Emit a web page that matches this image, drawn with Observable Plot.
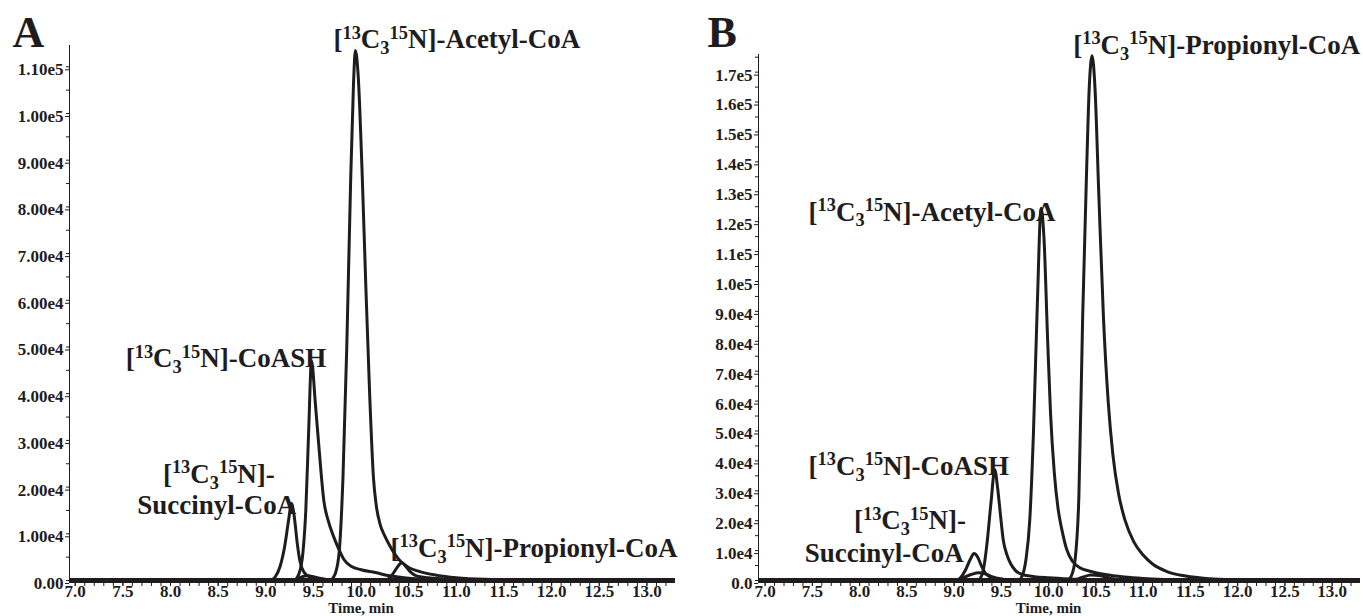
<!DOCTYPE html>
<html><head><meta charset="utf-8">
<script src="https://cdn.jsdelivr.net/npm/d3@7"></script>
<script src="https://cdn.jsdelivr.net/npm/@observablehq/plot@0.6"></script>
<style>
body{margin:0;background:#fff;}
#wrap{display:flex;width:1363px;height:616px;overflow:hidden;}
</style></head><body><div id="wrap"></div>
<script>
// ---------- data (time in min, intensity in cps) ----------
const xTicks = [7.0,7.5,8.0,8.5,9.0,9.5,10.0,10.5,11.0,11.5,12.0,12.5,13.0];
const xMinor = d3.range(70, 133, 1).map(d => d / 10);

const yTicksA = [0,10000,20000,30000,40000,50000,60000,70000,80000,90000,100000,110000];
const yTicksB = [0,10000,20000,30000,40000,50000,60000,70000,80000,90000,100000,110000,120000,130000,140000,150000,160000,170000];

// Panel A
const A_succinyl = [[9.05,0],[9.10,800],[9.15,3000],[9.20,7500],[9.24,13000],[9.27,16500],[9.30,13500],[9.33,8000],[9.36,4000],[9.40,1800],[9.46,800],[9.60,300],[9.80,0]];
const A_coash = [[9.30,0],[9.35,1500],[9.39,6000],[9.42,15000],[9.45,32000],[9.48,47000],[9.52,38000],[9.56,28000],[9.61,17000],[9.66,12500],[9.71,9500],[9.76,7000],[9.82,4500],[9.90,3000],[10.0,2300],[10.15,1700],[10.3,1000],[10.45,600],[10.7,200],[11.0,0]];
const A_acetyl = [[9.68,0],[9.73,1500],[9.77,6000],[9.81,22000],[9.85,50000],[9.89,85000],[9.92,106000],[9.94,113500],[9.97,108000],[10.01,88000],[10.05,63000],[10.09,40000],[10.13,22000],[10.16,16000],[10.20,12000],[10.25,9500],[10.30,7500],[10.36,5500],[10.42,4000],[10.50,2800],[10.6,2000],[10.8,1100],[11.0,600],[11.4,200],[11.8,0]];
const A_propionyl = [[10.26,0],[10.31,800],[10.36,2200],[10.40,3400],[10.43,3800],[10.47,3000],[10.52,1800],[10.58,1000],[10.7,600],[10.9,300],[11.2,0]];
const A_minor = [[9.30,0],[9.37,700],[9.44,1000],[9.52,700],[9.62,200],[9.72,0],[10.9,0],[11.0,350],[11.12,0]];

// Panel B
const B_succinyl = [[9.02,0],[9.07,1000],[9.12,3500],[9.17,7000],[9.21,9000],[9.25,7800],[9.29,4800],[9.33,2500],[9.38,1200],[9.45,600],[9.60,200],[9.80,0]];
const B_minor = [[9.03,0],[9.10,1000],[9.18,2000],[9.26,2600],[9.33,2200],[9.40,1300],[9.50,500],[9.62,0],[10.25,0],[10.35,1000],[10.45,1800],[10.55,1600],[10.65,800],[10.8,200],[10.95,0]];
const B_coash = [[9.25,0],[9.29,1500],[9.32,5500],[9.35,13000],[9.39,26000],[9.43,37000],[9.46,31000],[9.49,22000],[9.52,13500],[9.56,8500],[9.60,5500],[9.65,3300],[9.72,2000],[9.85,1300],[10.0,900],[10.3,400],[10.6,0]];
const B_acetyl = [[9.68,0],[9.72,1500],[9.76,7000],[9.80,20000],[9.84,50000],[9.88,92000],[9.92,124500],[9.95,115000],[9.99,80000],[10.02,56000],[10.06,36000],[10.10,24000],[10.14,17000],[10.19,10500],[10.25,6500],[10.33,4300],[10.45,3000],[10.6,2000],[10.8,1200],[11.0,700],[11.3,300],[11.6,0]];
const B_propionyl = [[10.20,0],[10.24,1500],[10.28,7000],[10.32,28000],[10.36,88000],[10.40,135000],[10.43,165000],[10.46,175500],[10.49,165000],[10.53,130000],[10.58,88000],[10.63,60000],[10.68,42000],[10.74,29000],[10.81,20000],[10.90,13000],[11.0,8500],[11.1,5500],[11.25,3000],[11.45,1500],[11.7,600],[12.0,200],[12.4,0]];

// annotation labels (^sup^, _sub_), anchored at left edge / vertical middle
const labelsA = [
  {t: 9.71, v: 115800, s: "[^13^C_3_^15^N]-Acetyl-CoA"},
  {t: 7.53, v: 47500, s: "[^13^C_3_^15^N]-CoASH"},
  {t: 7.92, v: 22700, s: "[^13^C_3_^15^N]-"},
  {t: 7.65, v: 16000, s: "Succinyl-CoA"},
  {t: 10.31, v: 6850, s: "[^13^C_3_^15^N]-Propionyl-CoA"}
];
const labelsB = [
  {t: 10.26, v: 178900, s: "[^13^C_3_^15^N]-Propionyl-CoA"},
  {t: 7.46, v: 123100, s: "[^13^C_3_^15^N]-Acetyl-CoA"},
  {t: 7.46, v: 38100, s: "[^13^C_3_^15^N]-CoASH"},
  {t: 7.94, v: 20000, s: "[^13^C_3_^15^N]-"},
  {t: 7.42, v: 9000, s: "Succinyl-CoA"}
];

// ---------- drawing ----------
const ink = "#1e1c1c";
const fontFam = '"Liberation Serif","Times New Roman",serif';
const svgNS = "http://www.w3.org/2000/svg";
const labelSize = 27;

function rich(el, s, size) {
  const parts = [...s.matchAll(/\^([^^]+)\^|_([^_]+)_|([^^_]+)/g)];
  el.textContent = "";
  let shift = 0;
  for (const m of parts) {
    const ts = document.createElementNS(svgNS, "tspan");
    let target = 0, fs = null, txt;
    if (m[1]) { target = -0.36 * size; fs = 0.68 * size; txt = m[1]; }
    else if (m[2]) { target = 0.2 * size; fs = 0.68 * size; txt = m[2]; }
    else { target = 0; txt = m[3]; }
    const dy = target - shift;
    if (dy) ts.setAttribute("dy", dy.toFixed(2));
    shift = target;
    if (fs) ts.setAttribute("font-size", fs.toFixed(1));
    ts.textContent = txt;
    el.appendChild(ts);
  }
}

function makePanel(cfg) {
  const rows = cfg.traces.flatMap(([name, pts]) => pts.map(([t, v]) => ({name, t, v})));
  const svg = Plot.plot({
    width: cfg.width, height: 616,
    marginLeft: cfg.ml, marginRight: cfg.mr, marginTop: cfg.mt, marginBottom: 36,
    style: {fontFamily: fontFam, fontWeight: "bold", fontSize: "17px", color: ink, background: "#fff", overflow: "visible"},
    x: {domain: cfg.xDomain},
    y: {domain: cfg.yDomain},
    marks: [
      Plot.frame({anchor: "left", stroke: ink, strokeWidth: 1}),
      Plot.axisY(cfg.yMinor, {tickSize: 3, tickFormat: () => "", label: null}),
      Plot.axisY(cfg.yTicks, {tickSize: 4, tickPadding: 2, tickFormat: cfg.fmt, label: null, dy: 3}),
      Plot.axisX(xMinor, {tickSize: 6, tickFormat: () => "", label: null}),
      Plot.axisX(xTicks, {tickSize: 6, tickPadding: -2, tickFormat: d => d.toFixed(1), label: null}),
      Plot.line(rows, {x: "t", y: "v", z: "name", curve: "monotone-x", stroke: ink, strokeWidth: 3, strokeLinejoin: "round"}),
      Plot.ruleY([0], {stroke: ink, strokeWidth: 5}),
      Plot.text([{t: 10, s: "Time, min"}], {x: "t", text: "s", frameAnchor: "bottom", lineAnchor: "middle", dy: 28, fontSize: 15}),
      Plot.text(cfg.labels, {x: "t", y: "v", text: "s", textAnchor: "start", lineAnchor: "middle", fontSize: labelSize}),
      Plot.text([cfg.letter], {frameAnchor: "top-left", lineAnchor: "middle", dx: cfg.ldx, dy: cfg.ldy, fontSize: 44, textAnchor: "start"})
    ]
  });
  d3.select(svg).selectAll("text").each(function() {
    if (this.textContent.includes("^")) rich(this, this.textContent, labelSize);
  });
  return svg;
}

const fmtA = d => d === 0 ? "0.00" : d.toExponential(2).replace("+", "");
const fmtB = d => d === 0 ? "0.0" : d.toExponential(1).replace("+", "");

const wrap = document.getElementById("wrap");
wrap.appendChild(makePanel({
  width: 690, ml: 69, mr: 15, mt: 45,
  xDomain: [6.94, 13.3], yDomain: [0, 114560],
  yTicks: yTicksA, yMinor: d3.range(0, 114560, 5000), fmt: fmtA,
  traces: [["succinyl", A_succinyl], ["coash", A_coash], ["acetyl", A_acetyl], ["propionyl", A_propionyl], ["minor", A_minor]],
  labels: labelsA, letter: "A", ldx: -57, ldy: -13
}));
wrap.appendChild(makePanel({
  width: 673, ml: 68, mr: 3, mt: 54,
  xDomain: [6.93, 13.3], yDomain: [0, 175900],
  yTicks: yTicksB, yMinor: d3.range(0, 175900, 5000), fmt: fmtB,
  traces: [["succinyl", B_succinyl], ["minor", B_minor], ["coash", B_coash], ["acetyl", B_acetyl], ["propionyl", B_propionyl]],
  labels: labelsB, letter: "B", ldx: -51, ldy: -22
}));
</script></body></html>
